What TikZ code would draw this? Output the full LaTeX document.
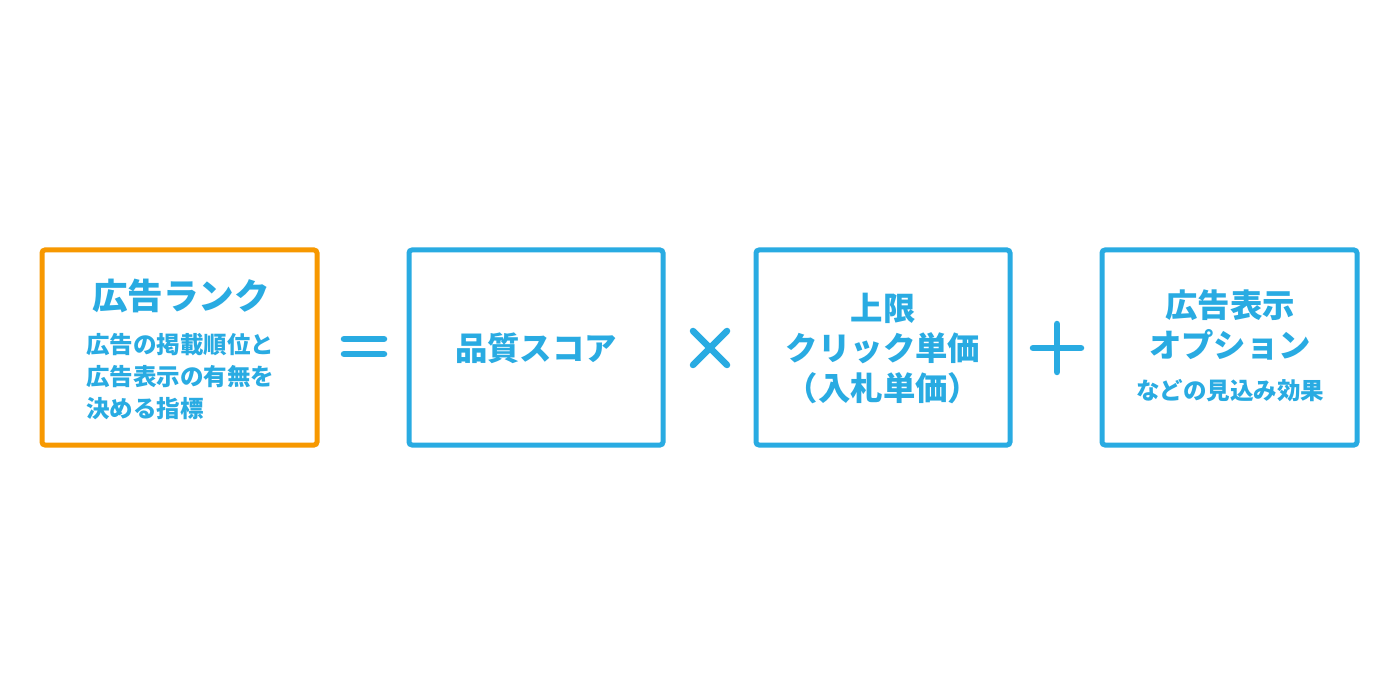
\documentclass[tikz,border=0pt]{standalone}
\usepackage{fontspec}
\newfontfamily\cjk{Noto Sans CJK JP}
\definecolor{cblue}{HTML}{29ABE2}
\definecolor{corange}{HTML}{F79800}
\begin{document}
\begin{tikzpicture}[x=1pt,y=-1pt,
  box/.style={draw=cblue,line width=5pt,rounded corners=3pt},
  obox/.style={draw=corange,line width=5pt,rounded corners=3pt},
  big/.style={text=cblue,font=\cjk\bfseries\fontsize{32.4}{40}\selectfont,align=center,inner sep=0pt},
  small/.style={text=cblue,font=\cjk\bfseries\fontsize{23.5}{32}\selectfont,inner sep=0pt},
  op/.style={draw=cblue,line width=6.5pt,line cap=round}]
\useasboundingbox (0,0) rectangle (1400,700);
\fill[white] (0,0) rectangle (1400,700);
% boxes
\draw[obox] (42,250) rectangle (317,445);
\draw[box] (409,250) rectangle (663,445);
\draw[box] (756,250) rectangle (1010,445);
\draw[box] (1102,250) rectangle (1357,445);
% box 1 texts
\node[big,font=\cjk\bfseries\fontsize{35.6}{40}\selectfont] (t1) at (181,296) {広告ランク};
\node[small,anchor=west] (s1) at (86,345) {広告の掲載順位と};
\node[small,anchor=west] (s2) at (86,377) {広告表示の有無を};
\node[small,anchor=west] (s3) at (86,409) {決める指標};
% box 2
\node[big] (t2) at (536,348) {品質スコア};
% box 3
\node[big] (t3a) at (883,308) {上限};
\node[big] (t3b) at (883,348) {クリック単価};
\node[big] (t3c) at (883,388) {（入札単価）};
% box 4
\node[big] (t4a) at (1230,305) {広告表示};
\node[big] (t4b) at (1230,345) {オプション};
\node[small] (t4c) at (1230,391) {などの見込み効果};
% operators
\coordinate (e1a) at (344,339); \coordinate (e1b) at (384,339);
\coordinate (e2a) at (344,354); \coordinate (e2b) at (384,354);
\draw[op] (e1a) -- (e1b);
\draw[op] (e2a) -- (e2b);
\coordinate (xa) at (693,331); \coordinate (xb) at (727,365);
\coordinate (xc) at (727,331); \coordinate (xd) at (693,365);
\draw[op] (xa) -- (xb);
\draw[op] (xc) -- (xd);
\coordinate (pa) at (1033,348); \coordinate (pb) at (1081,348);
\coordinate (pc) at (1057,324); \coordinate (pd) at (1057,372);
\draw[op] (pa) -- (pb);
\draw[op] (pc) -- (pd);
\end{tikzpicture}
\end{document}
